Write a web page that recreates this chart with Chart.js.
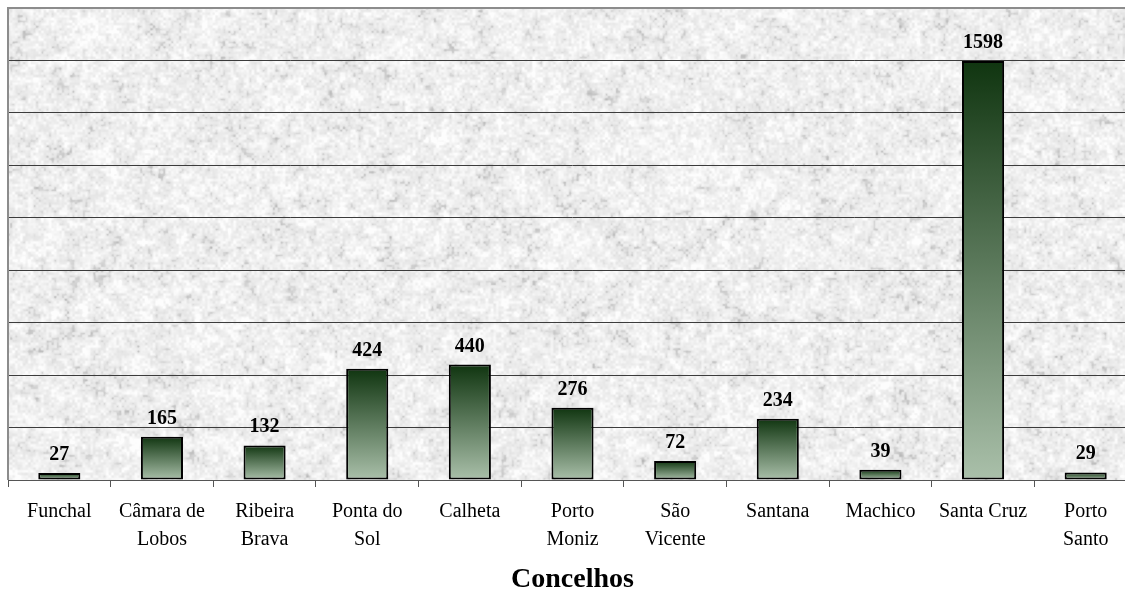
<!DOCTYPE html>
<html><head><meta charset="utf-8">
<script src="https://cdn.jsdelivr.net/npm/chart.js@4/dist/chart.umd.min.js"></script>
<style>
html,body{margin:0;padding:0;background:#fff;overflow:hidden;width:1125px;height:595px}
#wrap{position:relative;width:1140px;height:595px}
</style></head><body>
<div id="wrap"><canvas id="c"></canvas></div>
<script>
// Concelhos (categories) and their values
const concelhos = [
  ['Funchal'], ['Câmara de', 'Lobos'], ['Ribeira', 'Brava'], ['Ponta do', 'Sol'],
  ['Calheta'], ['Porto', 'Moniz'], ['São', 'Vicente'], ['Santana'],
  ['Machico'], ['Santa Cruz'], ['Porto', 'Santo']
];
const valores = [27, 165, 132, 424, 440, 276, 72, 234, 39, 1598, 29];
const eixoMax = 1800;
const eixoPasso = 200;
const tituloEixo = 'Concelhos';

const SERIF = '"Liberation Serif", "Times New Roman", serif';

// mottled stone texture for the plot background (deterministic value noise)
function hash(i, j) {
  const s = Math.sin(i * 127.1 + j * 311.7) * 43758.5453;
  return s - Math.floor(s);
}
function valueNoise(x, y, cell) {
  const gx = x / cell, gy = y / cell;
  const i = Math.floor(gx), j = Math.floor(gy);
  const fx = gx - i, fy = gy - j;
  const sx = fx * fx * (3 - 2 * fx), sy = fy * fy * (3 - 2 * fy);
  const a = hash(i, j), b = hash(i + 1, j), c = hash(i, j + 1), d = hash(i + 1, j + 1);
  return a + (b - a) * sx + (c - a) * sy + (a - b - c + d) * sx * sy;
}
let texturaCache = null;
function textura(w, h) {
  if (texturaCache && texturaCache.width === w && texturaCache.height === h) return texturaCache;
  const cv = document.createElement('canvas');
  cv.width = w; cv.height = h;
  const cx = cv.getContext('2d');
  const img = cx.createImageData(w, h);
  for (let y = 0; y < h; y++) {
    for (let x = 0; x < w; x++) {
      const n1 = valueNoise(x, y, 2.6);
      const n2 = valueNoise(x + 500, y + 300, 6);
      const n3 = valueNoise(x + 900, y + 700, 16);
      const v = 0.4 * n1 + 0.35 * n2 + 0.25 * n3;
      let g = 238 + (v - 0.5) * 55;
      if (v < 0.33) g -= (0.33 - v) * 110;
      g = Math.max(175, Math.min(253, g));
      const k = (y * w + x) * 4;
      img.data[k] = g; img.data[k + 1] = g; img.data[k + 2] = g; img.data[k + 3] = 255;
    }
  }
  cx.putImageData(img, 0, 0);
  texturaCache = cv;
  return cv;
}

const fundoPlugin = {
  id: 'fundo',
  beforeDraw(chart) {
    const a = chart.chartArea, ctx = chart.ctx;
    const w = Math.round(a.right - a.left), h = Math.round(a.bottom - a.top);
    if (!(w > 0 && h > 0)) return;
    ctx.save();
    ctx.drawImage(textura(w, h), a.left, a.top);
    ctx.restore();
  },
  beforeDatasetsDraw(chart) {
    const a = chart.chartArea, ctx = chart.ctx;
    ctx.save();
    ctx.strokeStyle = '#8c8c8c';
    ctx.lineWidth = 2;
    ctx.beginPath();
    ctx.moveTo(a.left, a.bottom);
    ctx.lineTo(a.left, a.top);
    ctx.lineTo(a.right + 2, a.top);
    ctx.stroke();
    ctx.restore();
  }
};

const rotulosPlugin = {
  id: 'rotulos',
  afterDatasetsDraw(chart) {
    const ctx = chart.ctx;
    const meta = chart.getDatasetMeta(0);
    ctx.save();
    ctx.font = 'bold 20px ' + SERIF;
    ctx.fillStyle = '#000';
    ctx.textAlign = 'center';
    ctx.textBaseline = 'alphabetic';
    meta.data.forEach((el, i) => {
      ctx.fillText(String(valores[i]), el.x, el.y - 13);
    });
    ctx.restore();
  }
};

function gradienteBarra(context) {
  const chart = context.chart;
  const y = chart.scales.y;
  if (!y || context.dataIndex === undefined) return '#5a7a5a';
  const v = valores[context.dataIndex];
  const top = y.getPixelForValue(v), base = y.getPixelForValue(0);
  if (!isFinite(top) || !isFinite(base) || top === base) return '#5a7a5a';
  const g = chart.ctx.createLinearGradient(0, top, 0, base);
  g.addColorStop(0, '#103510');
  g.addColorStop(1, '#aac0aa');
  return g;
}

new Chart(document.getElementById('c'), {
  type: 'bar',
  data: {
    labels: concelhos,
    datasets: [{
      data: valores,
      backgroundColor: gradienteBarra,
      borderColor: '#000',
      borderWidth: 2,
      borderSkipped: false,
      categoryPercentage: 1,
      barPercentage: 0.41
    }]
  },
  options: {
    responsive: true,
    maintainAspectRatio: false,
    animation: false,
    devicePixelRatio: 1,
    layout: { padding: { left: 8, top: 8, right: 3, bottom: 0 } },
    plugins: { legend: { display: false }, tooltip: { enabled: false } },
    scales: {
      x: {
        afterFit(s) { s.height = 115; },
        grid: { display: true, drawOnChartArea: false, drawTicks: true, tickLength: 7, color: '#555', lineWidth: 1 },
        border: { display: true, color: '#555', width: 1 },
        ticks: {
          color: '#000',
          font: { family: SERIF, size: 20, lineHeight: 1.4 },
          padding: 11,
          maxRotation: 0,
          autoSkip: false
        },
        title: {
          display: true,
          text: tituloEixo,
          color: '#000',
          font: { family: SERIF, size: 28, weight: 'bold', lineHeight: 1.1 },
          padding: { top: 0, bottom: 0 }
        }
      },
      y: {
        min: 0,
        max: eixoMax,
        afterFit(s) { s.width = 0; },
        ticks: { display: false, stepSize: eixoPasso },
        grid: { color: '#3c3c3c', lineWidth: 1, drawTicks: false },
        border: { display: false }
      }
    }
  },
  plugins: [fundoPlugin, rotulosPlugin]
});
</script>
</body></html>
